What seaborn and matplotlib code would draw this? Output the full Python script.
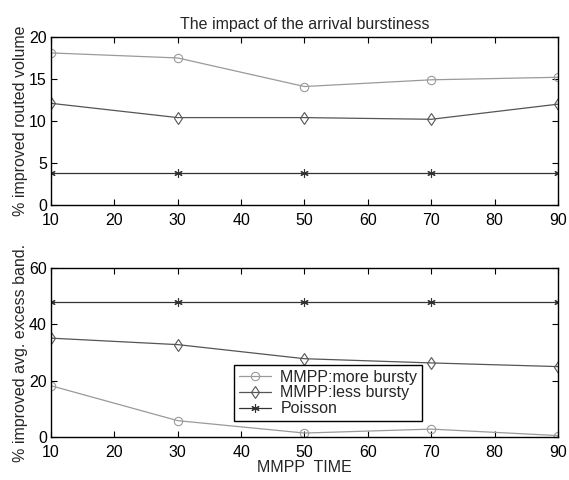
import seaborn as sns
import matplotlib.pyplot as plt
import pandas as pd

# MMPP time values on the x axis
mmpp_time = [10, 30, 50, 70, 90]

# top panel: % improved routed volume
vol_more_bursty = [18.1, 17.5, 14.1, 14.9, 15.2]
vol_less_bursty = [12.1, 10.4, 10.4, 10.2, 12.0]
vol_poisson = [3.8, 3.8, 3.8, 3.8, 3.8]

# bottom panel: % improved avg. excess band.
band_more_bursty = [18.2, 5.8, 1.4, 2.8, 0.5]
band_less_bursty = [35.1, 32.8, 27.8, 26.3, 25.0]
band_poisson = [47.9, 47.9, 47.9, 47.9, 47.9]

series_names = ['MMPP:more bursty', 'MMPP:less bursty', 'Poisson']
series_colors = ['#9a9a9a', '#555555', '#333333']
series_markers = ['o', 'd', (6, 2, 0)]

sns.set_style('ticks')
plt.rcParams['font.family'] = ['Liberation Sans', 'DejaVu Sans']
fs = 11.5

fig = plt.figure(figsize=(5.69, 4.8), dpi=100)
ax_top = fig.add_axes([0.0896, 0.573, 0.891, 0.35])
ax_bot = fig.add_axes([0.0896, 0.0896, 0.891, 0.352])


def draw_panel(ax, values):
    for name, vals, color, marker in zip(series_names, values, series_colors, series_markers):
        df = pd.DataFrame({'x': mmpp_time, 'y': vals})
        sns.lineplot(data=df, x='x', y='y', ax=ax, color=color, linewidth=0.9,
                     marker=marker, markersize=6, markerfacecolor='none',
                     markeredgecolor=color, markeredgewidth=0.8, label=name)
    ax.set_xlim(10, 90)
    ax.set_xticks(range(10, 91, 10))
    ax.tick_params(direction='in', top=True, right=True, length=4, width=0.8,
                   labelsize=fs, colors='black')
    ax.tick_params(axis='x', pad=6)
    ax.tick_params(axis='y', pad=3)
    for sp in ax.spines.values():
        sp.set_visible(True)
        sp.set_linewidth(1.0)
        sp.set_color('black')


draw_panel(ax_top, [vol_more_bursty, vol_less_bursty, vol_poisson])
ax_top.set_ylim(0, 20)
ax_top.set_yticks([0, 5, 10, 15, 20])
ax_top.set_xlabel('')
ax_top.set_ylabel('% improved routed volume', fontsize=fs, labelpad=1)
ax_top.set_title('The impact of the arrival burstiness', fontsize=fs, pad=6)
ax_top.get_legend().remove()

draw_panel(ax_bot, [band_more_bursty, band_less_bursty, band_poisson])
ax_bot.set_ylim(0, 60)
ax_bot.set_yticks([0, 20, 40, 60])
ax_bot.set_xlabel('MMPP  TIME', fontsize=fs, labelpad=0)
ax_bot.set_ylabel('% improved avg. excess band.', fontsize=fs, labelpad=1)
leg = ax_bot.legend(loc='lower left', bbox_to_anchor=(0.361, 0.095), borderaxespad=0,
                    fancybox=False, edgecolor='black', framealpha=1, fontsize=fs,
                    handlelength=2.0, borderpad=0.3, labelspacing=0.05, handletextpad=0.6)
leg.get_frame().set_linewidth(1.0)

fig.savefig('out.png', dpi=100)
